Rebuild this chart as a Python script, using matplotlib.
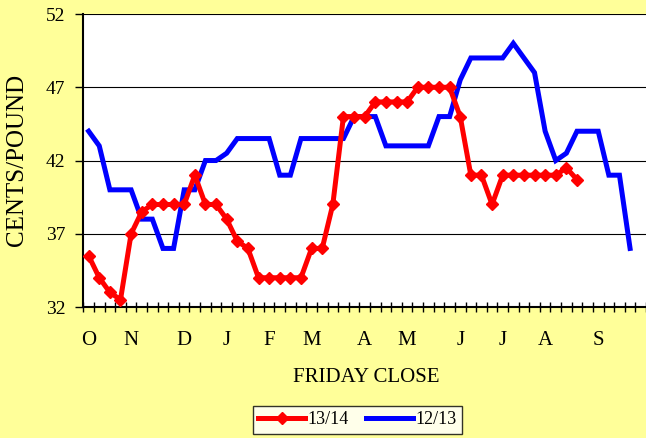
import matplotlib
matplotlib.use('Agg')
import matplotlib.pyplot as plt
import numpy as np

plt.rcParams['font.family'] = ['Liberation Serif', 'DejaVu Serif']

# weekly Friday closes, cents/pound
red_1314 = [35.5, 34, 33, 32.5, 37, 38.5, 39, 39, 39, 39, 41, 39, 39, 38, 36.5, 36,
            34, 34, 34, 34, 34, 36, 36, 39, 45, 45, 45, 46, 46, 46, 46, 47, 47, 47,
            47, 45, 41, 41, 39, 41, 41, 41, 41, 41, 41, 41.5, 40.7]
blue_1213 = [44, 43, 40, 40, 40, 38, 38, 36, 36, 40, 40, 42, 42, 42.5, 43.5, 43.5,
             43.5, 43.5, 41, 41, 43.5, 43.5, 43.5, 43.5, 43.5, 45, 45, 45, 43, 43, 43,
             43, 43, 45, 45, 47.5, 49, 49, 49, 49, 50, 49, 48, 44, 42, 42.5, 44, 44,
             44, 41, 41, 36]
n_weeks = 53
month_pos = [0, 4, 9, 13, 17, 21, 26, 30, 35, 39, 43, 48]
month_labels = ['O', 'N', 'D', 'J', 'F', 'M', 'A', 'M', 'J', 'J', 'A', 'S']
y_ticks = [32, 37, 42, 47, 52]

fig = plt.figure(figsize=(6.46, 4.38), dpi=100, facecolor='#FFFF99')
ax = fig.add_axes([0.129, 0.299, 0.871, 0.669])
ax.set_facecolor('white')

ax.plot(np.arange(len(blue_1213)), blue_1213, color='#0000FF', lw=3.6,
        solid_joinstyle='miter', label='12/13', zorder=3)
ax.plot(np.arange(len(red_1314)), red_1314, color='#FF0000', lw=3.6,
        marker='D', markersize=6.5, label='13/14', zorder=4)

ax.set_xlim(-0.5, n_weeks - 0.5)
ax.set_ylim(32, 52)
ax.set_yticks(y_ticks)
ax.set_yticklabels([str(v) for v in y_ticks], fontsize=14)
ax.yaxis.grid(True, color='black', lw=0.8)
ax.set_axisbelow(True)

ax.set_xticks(np.arange(-0.5, n_weeks, 1.0))
ax.set_xticklabels([])
ax.tick_params(axis='x', which='major', direction='inout', length=7, width=1)
ax.set_xticks(month_pos, minor=True)
ax.set_xticklabels(month_labels, minor=True, fontsize=15)
ax.tick_params(axis='x', which='minor', length=0, pad=17)
ax.tick_params(axis='y', direction='out', length=6, width=1, pad=7)

for s in ['top', 'right']:
    ax.spines[s].set_visible(False)
ax.spines['left'].set_linewidth(1.5)
ax.spines['bottom'].set_linewidth(1.5)

fig.text(17.5 / 646, 1 - 160 / 438, 'CENTS/POUND', fontsize=18, rotation=90,
         ha='center', va='center')
fig.text(366 / 646, 1 - 377 / 438, 'FRIDAY CLOSE', fontsize=15,
         ha='center', va='center')

handles, labels = ax.get_legend_handles_labels()
leg = fig.legend(handles[::-1], labels[::-1], loc='center', bbox_to_anchor=(0.553, 0.042),
                 ncol=2, fontsize=13, frameon=True, fancybox=False, edgecolor='black',
                 borderpad=0.3, handlelength=2.6, columnspacing=1.0, handletextpad=0.1)
leg.get_frame().set_linewidth(1)

fig.savefig('out.png', dpi=100, facecolor=fig.get_facecolor())
